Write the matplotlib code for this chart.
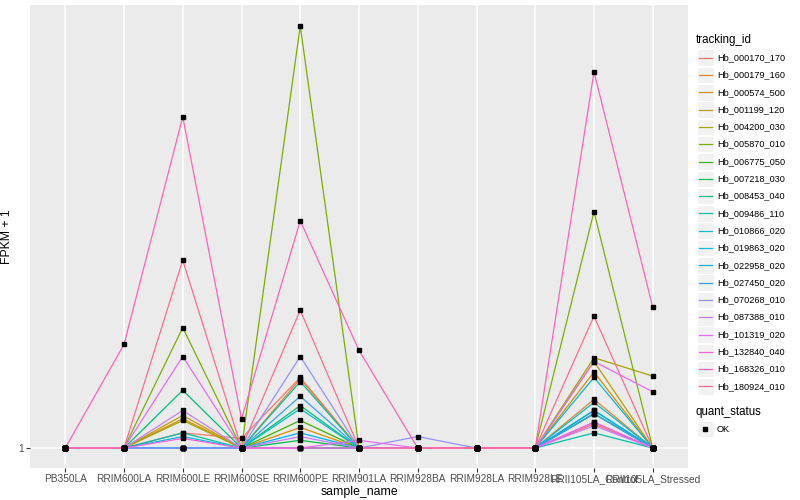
import matplotlib
matplotlib.use("Agg")
import matplotlib.pyplot as plt
from matplotlib.patches import Rectangle
from matplotlib.lines import Line2D

plt.rcParams['font.family'] = ['Liberation Sans', 'DejaVu Sans']

samples = ["PB350LA", "RRIM600LA", "RRIM600LE", "RRIM600SE", "RRIM600PE", "RRIM901LA",
           "RRIM928BA", "RRIM928LA", "RRIM928LE", "RRII105LA_Control", "RRII105LA_Stressed"]

tracking_ids = ["Hb_000170_170", "Hb_000179_160", "Hb_000574_500", "Hb_001199_120",
                "Hb_004200_030", "Hb_005870_010", "Hb_006775_050", "Hb_007218_030",
                "Hb_008453_040", "Hb_009486_110", "Hb_010866_020", "Hb_019863_020",
                "Hb_022958_020", "Hb_027450_020", "Hb_070268_010", "Hb_087388_010",
                "Hb_101319_020", "Hb_132840_040", "Hb_168326_010", "Hb_180924_010"]

# цвета как в ggplot hue_pal()(20)
colors = ["#F8766D", "#EA8331", "#D89000", "#C09B00", "#A3A500", "#7CAE00", "#39B600",
          "#00BB4E", "#00BF7D", "#00C1A3", "#00BFC4", "#00BAE0", "#00B0F6", "#35A2FF",
          "#9590FF", "#C77CFF", "#E76BF3", "#FA62DB", "#FF62BC", "#FF6C91"]

# FPKM + 1 по образцам (порядок как в samples)
fpkm = {
    "Hb_000170_170": [1, 1, 1.08, 1.05, 1.43, 1, 1, 1, 1, 1.13, 1],
    "Hb_000179_160": [1, 1, 1, 1, 1.42, 1, 1, 1, 1, 1.28, 1],
    "Hb_000574_500": [1, 1, 1.16, 1, 1.11, 1, 1, 1, 1, 1.47, 1],
    "Hb_001199_120": [1, 1, 1.18, 1, 1, 1, 1, 1, 1, 1.55, 1],
    "Hb_004200_030": [1, 1, 1.15, 1, 1, 1, 1, 1, 1, 1.58, 1.44],
    "Hb_005870_010": [1, 1, 1.84, 1, 8.48, 1, 1, 1, 1, 3.31, 1],
    "Hb_006775_050": [1, 1, 1, 1, 1.15, 1, 1, 1, 1, 1.19, 1],
    "Hb_007218_030": [1, 1, 1, 1, 1.04, 1, 1, 1, 1, 1.19, 1],
    "Hb_008453_040": [1, 1, 1.34, 1, 1.24, 1, 1, 1, 1, 1.21, 1],
    "Hb_009486_110": [1, 1, 1.08, 1, 1.40, 1, 1, 1, 1, 1.08, 1],
    "Hb_010866_020": [1, 1, 1, 1, 1.22, 1, 1, 1, 1, 1.26, 1],
    "Hb_019863_020": [1, 1, 1.06, 1, 1, 1, 1, 1, 1, 1.43, 1],
    "Hb_022958_020": [1, 1, 1, 1, 1.08, 1, 1, 1, 1, 1.21, 1],
    "Hb_027450_020": [1, 1, 1, 1, 1.30, 1, 1, 1, 1, 1.19, 1],
    "Hb_070268_010": [1, 1, 1, 1, 1.59, 1, 1.06, 1, 1, 1.14, 1],
    "Hb_087388_010": [1, 1, 1.21, 1, 1.06, 1, 1, 1, 1, 1.12, 1],
    "Hb_101319_020": [1, 1, 1.59, 1, 1, 1.04, 1, 1, 1, 1.55, 1.33],
    "Hb_132840_040": [1, 1, 1.05, 1, 1, 1, 1, 1, 1, 1.14, 1],
    "Hb_168326_010": [1, 1.69, 5.35, 1.16, 3.16, 1.64, 1, 1, 1, 6.72, 2.04],
    "Hb_180924_010": [1, 1, 2.59, 1, 2.01, 1, 1, 1, 1, 1.95, 1],
}

fig = plt.figure(figsize=[8, 5], dpi=100)
ax = fig.add_axes([30/800, 32/500, (688-30)/800, (468-5)/500])
ax.set_facecolor("#EBEBEB")

x = list(range(len(samples)))
for tid, c in zip(tracking_ids, colors):
    ax.plot(x, fpkm[tid], color=c, lw=0.9, zorder=3)
for tid in tracking_ids:
    ax.plot(x, fpkm[tid], ls='none', marker='s', ms=2.8, color='black', zorder=4)

ax.set_yscale('log')
ax.set_xlim(-0.6, len(samples) - 1 + 0.6)
ax.set_ylim(0.904, 9.43)
ax.set_yticks([1])
ax.set_yticklabels(["1"])
ax.minorticks_off()
ax.set_xticks(x)
ax.set_xticklabels(samples)
ax.grid(True, color='white', lw=1.1, zorder=0)
ax.set_axisbelow(True)
for s in ax.spines.values():
    s.set_visible(False)
ax.tick_params(axis='both', length=3, width=0.8, color='#333333', labelsize=7.3,
               labelcolor='#4D4D4D', pad=1.5)
ax.set_xlabel("sample_name", fontsize=8.8, labelpad=1)
ax.set_ylabel("FPKM + 1", fontsize=8.8, labelpad=4)

# легенда вручную, как в ggplot
def px(xp, yp):
    return xp / 800, 1 - yp / 500

fig.text(*px(696, 40), "tracking_id", fontsize=8.3, va='center', ha='left')
for i, (tid, c) in enumerate(zip(tracking_ids, colors)):
    yc = 57.7 + 17.3 * i
    x0, y0 = px(697, yc + 8.3)
    fig.add_artist(Rectangle((x0, y0), 16.5/800, 16.6/500, transform=fig.transFigure,
                             facecolor='#F2F2F2', edgecolor='white', lw=0.8))
    xa, ya = px(698.5, yc)
    xb, _ = px(711.5, yc)
    fig.add_artist(Line2D([xa, xb], [ya, ya], transform=fig.transFigure, color=c, lw=0.9))
    fig.text(*px(717, yc), tid, fontsize=6.6, va='center', ha='left')

fig.text(*px(696, 412), "quant_status", fontsize=8.3, va='center', ha='left')
x0, y0 = px(697, 429 + 8.3)
fig.add_artist(Rectangle((x0, y0), 16.5/800, 16.6/500, transform=fig.transFigure,
                         facecolor='#F2F2F2', edgecolor='white', lw=0.8))
xm, ym = px(705, 429)
fig.add_artist(Line2D([xm], [ym], transform=fig.transFigure, ls='none', marker='s',
                      ms=2.8, color='black'))
fig.text(*px(717, 429), "OK", fontsize=6.6, va='center', ha='left')

fig.savefig("out.png", dpi=100)
